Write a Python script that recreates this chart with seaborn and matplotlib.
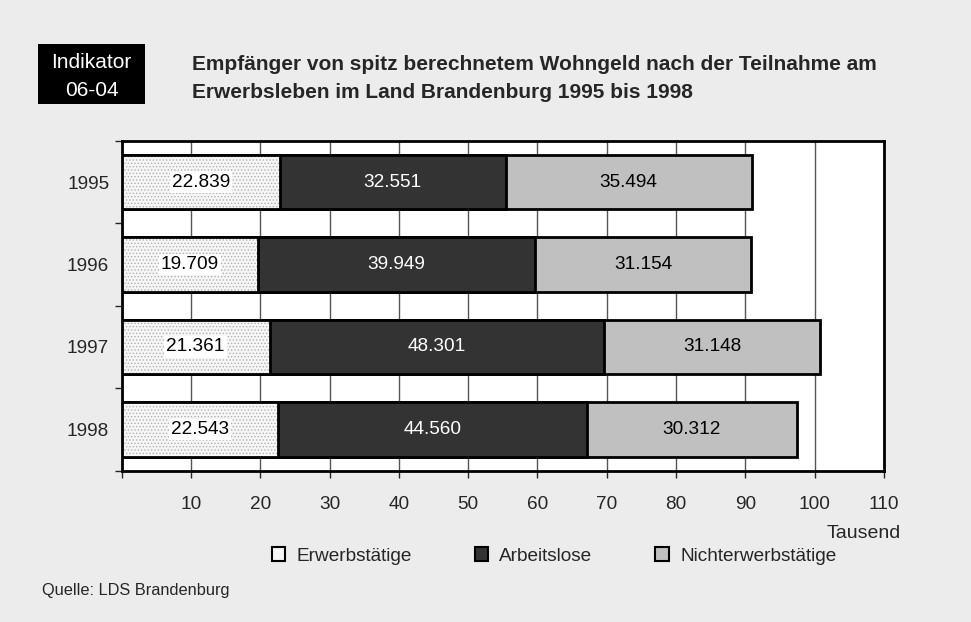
import pandas as pd
import seaborn as sns
import matplotlib.pyplot as plt
from matplotlib.patches import Patch, Rectangle

years = ['1995', '1996', '1997', '1998']
erwerbstaetige = [22839, 19709, 21361, 22543]
arbeitslose = [32551, 39949, 48301, 44560]
nichterwerbstaetige = [35494, 31154, 31148, 30312]
series_names = ['Erwerbstätige', 'Arbeitslose', 'Nichterwerbstätige']
x_ticks = [0, 10, 20, 30, 40, 50, 60, 70, 80, 90, 100, 110]

sns.set_style('white')
plt.rcParams['font.family'] = ['Liberation Sans', 'DejaVu Sans']
plt.rcParams['hatch.linewidth'] = 0.6

bg = '#ececec'
c_erw = '#f6f6f6'
c_arb = '#333333'
c_nicht = '#c0c0c0'
fs = 13.7

df = pd.DataFrame({'Jahr': years,
                   'erw': [v / 1000 for v in erwerbstaetige],
                   'arb': [v / 1000 for v in arbeitslose],
                   'nicht': [v / 1000 for v in nichterwerbstaetige]})
df['cum_arb'] = df['erw'] + df['arb']
df['cum_nicht'] = df['cum_arb'] + df['nicht']

fig = plt.figure(figsize=(9.71, 6.22), dpi=100, facecolor=bg)
ax = fig.add_axes([0.1253, 0.2432, 0.7851, 0.5305])
ax.set_facecolor('white')

w = 0.66
# stacked by overlaying cumulative totals
sns.barplot(data=df, x='cum_nicht', y='Jahr', orient='h', color=c_nicht,
            saturation=1, width=w, edgecolor='black', linewidth=2, ax=ax, zorder=3)
sns.barplot(data=df, x='cum_arb', y='Jahr', orient='h', color=c_arb,
            saturation=1, width=w, edgecolor='black', linewidth=2, ax=ax, zorder=4)
sns.barplot(data=df, x='erw', y='Jahr', orient='h', color=c_erw,
            saturation=1, width=w, edgecolor='#b0b0b0', linewidth=0, hatch='.....',
            ax=ax, zorder=5)
sns.barplot(data=df, x='erw', y='Jahr', orient='h', fill=False,
            width=w, edgecolor='black', linewidth=2, ax=ax, zorder=6)


def fmt(v):
    return f'{v:,}'.replace(',', '.')


for i in range(len(years)):
    ax.text(df['erw'][i] / 2, i, fmt(erwerbstaetige[i]), ha='center', va='center',
            fontsize=fs, color='black', zorder=7,
            bbox=dict(facecolor='white', edgecolor='none', pad=1.5))
    ax.text(df['erw'][i] + df['arb'][i] / 2, i, fmt(arbeitslose[i]), ha='center',
            va='center', fontsize=fs, color='white', zorder=7)
    ax.text(df['cum_arb'][i] + df['nicht'][i] / 2, i, fmt(nichterwerbstaetige[i]),
            ha='center', va='center', fontsize=fs, color='black', zorder=7)

ax.set_xlim(0, 110)
ax.set_ylim(3.5, -0.5)
ax.set_xticks(x_ticks)
ax.set_xticklabels([''] + [str(t) for t in x_ticks[1:]])
ax.tick_params(axis='x', direction='out', length=5, width=1, pad=13,
               labelsize=fs, bottom=True)
ax.tick_params(axis='y', which='major', length=0, pad=9, labelsize=fs)
ax.set_yticks([-0.5, 0.5, 1.5, 2.5, 3.5], minor=True)
ax.tick_params(axis='y', which='minor', direction='out', length=5, width=1, left=True)
ax.xaxis.grid(True, color='#555555', linewidth=1)
ax.set_axisbelow(True)
ax.set_xlabel('')
ax.set_ylabel('')
for s in ax.spines.values():
    s.set_color('black')
    s.set_linewidth(2)

fig.text(901 / 971, 1 - 534 / 622, 'Tausend', ha='right', va='center', fontsize=14)

handles = [Patch(facecolor=c_erw, edgecolor='black', linewidth=1.5),
           Patch(facecolor=c_arb, edgecolor='black', linewidth=1.5),
           Patch(facecolor=c_nicht, edgecolor='black', linewidth=1.5)]
fig.legend(handles, series_names, loc='center', bbox_to_anchor=(554 / 971, 1 - 556 / 622),
           ncol=3, frameon=False, fontsize=fs, handlelength=0.7, handleheight=0.7,
           handletextpad=0.6, columnspacing=3.3)

# indicator box and title
fig.patches.append(Rectangle((38 / 971, 1 - 104 / 622), 107 / 971, 60 / 622,
                             transform=fig.transFigure, facecolor='black',
                             edgecolor='none'))
fig.text(91.5 / 971, 1 - 63 / 622, 'Indikator', color='white', ha='center',
         va='center', fontsize=15)
fig.text(91.5 / 971, 1 - 91 / 622, '06-04', color='white', ha='center',
         va='center', fontsize=15)
fig.text(192 / 971, 1 - 64 / 622,
         'Empfänger von spitz berechnetem Wohngeld nach der Teilnahme am',
         fontsize=15, fontweight='bold', va='center', ha='left')
fig.text(192 / 971, 1 - 93 / 622,
         'Erwerbsleben im Land Brandenburg 1995 bis 1998',
         fontsize=15, fontweight='bold', va='center', ha='left')

fig.text(42 / 971, 1 - 590 / 622, 'Quelle: LDS Brandenburg', fontsize=11.8,
         va='center', ha='left')

fig.savefig('out.png', dpi=100, facecolor=bg)
